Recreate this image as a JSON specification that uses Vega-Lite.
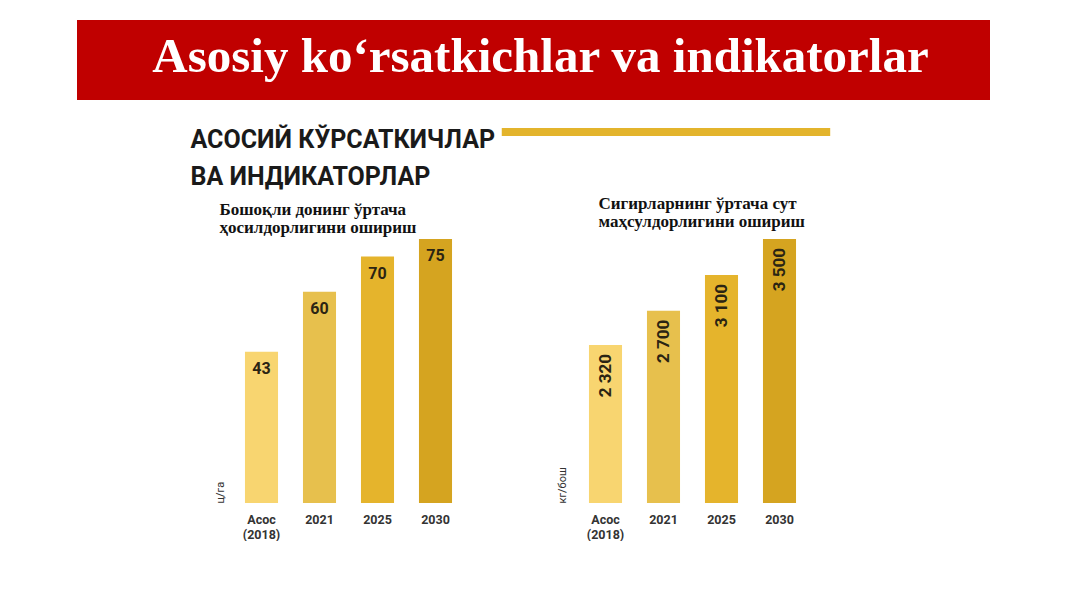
{
  "$schema": "https://vega.github.io/schema/vega-lite/v6.json",
  "background": "white",
  "padding": {"left": 77, "top": 20, "right": 77, "bottom": 0},
  "config": {"view": {"stroke": null}, "font": "Liberation Sans"},
  "center": true,
  "spacing": 0,
  "vconcat": [
    {
      "width": 913,
      "height": 80,
      "view": {"fill": "#c00000", "stroke": null},
      "data": {"values": [{"t": "Asosiy ko‘rsatkichlar va indikatorlar"}]},
      "mark": {"type": "text", "font": "Liberation Serif", "fontWeight": "bold", "fontSize": 49, "color": "#ffffff", "baseline": "alphabetic", "align": "center", "dx": 7},
      "encoding": {
        "text": {"field": "t"},
        "x": {"datum": 0.5, "scale": {"domain": [0, 1]}, "axis": null},
        "y": {"datum": 0.35, "scale": {"domain": [0, 1]}, "axis": null}
      }
    },
    {
      "width": 690,
      "height": 95,
      "data": {"values": [{"t": "АСОСИЙ КЎРСАТКИЧЛАР\nВА ИНДИКАТОРЛАР"}]},
      "layer": [
        {
          "mark": {"type": "rule", "color": "#e3b42c", "strokeWidth": 8},
          "encoding": {
            "x": {"datum": 0.454, "type": "quantitative", "scale": {"domain": [0, 1]}, "axis": null},
            "x2": {"datum": 0.93},
            "y": {"datum": 0.663, "type": "quantitative", "scale": {"domain": [0, 1]}, "axis": null}
          }
        },
        {
          "mark": {"type": "text", "font": "Roboto", "fontWeight": "bold", "fontSize": 25, "color": "#1a1a1a", "baseline": "alphabetic", "align": "left", "lineBreak": "\n", "lineHeight": 37, "dx": 2},
          "encoding": {
            "text": {"field": "t"},
            "x": {"datum": 0, "type": "quantitative"},
            "y": {"datum": 0.495, "type": "quantitative"}
          }
        }
      ]
    },
    {
      "spacing": 92,
      "hconcat": [
        {
          "width": 232,
          "height": 264,
          "title": {"text": ["Бошоқли донинг ўртача", "ҳосилдорлигини ошириш"], "anchor": "start", "frame": "group", "dx": -13, "font": "Liberation Serif", "fontSize": 17, "fontWeight": "bold", "lineHeight": 18, "offset": 2, "color": "#111111"},
          "data": {"values": [
            {"yil": "Асос (2018)", "qiymat": 43, "matn": "43"},
            {"yil": "2021", "qiymat": 60, "matn": "60"},
            {"yil": "2025", "qiymat": 70, "matn": "70"},
            {"yil": "2030", "qiymat": 75, "matn": "75"}
          ]},
          "encoding": {
            "x": {"field": "yil", "type": "nominal", "sort": null, "scale": {"paddingInner": 0.43, "paddingOuter": 0.215},
              "axis": {"title": null, "labelAngle": 0, "ticks": false, "domain": false, "labelExpr": "split(datum.value, ' ')", "labelFont": "Roboto", "labelFontWeight": "bold", "labelFontSize": 12.5, "labelColor": "#333333", "labelPadding": 10, "labelLineHeight": 15}},
            "y": {"field": "qiymat", "type": "quantitative", "scale": {"domain": [0, 75]},
              "axis": {"title": "ц/га", "labels": false, "ticks": false, "domain": false, "grid": false, "titlePadding": 7, "titleAnchor": "start", "titleFont": "Roboto", "titleFontSize": 11, "titleFontWeight": "normal", "titleColor": "#333333"}}
          },
          "layer": [
            {"mark": {"type": "bar"}, "encoding": {"color": {"field": "yil", "type": "nominal", "sort": null, "scale": {"domain": ["Асос (2018)", "2021", "2025", "2030"], "range": ["#f8d570", "#e7c04d", "#e5b42c", "#d5a420"]}, "legend": null}}},
            {"mark": {"type": "text", "baseline": "top", "dy": 9, "font": "Roboto", "fontWeight": "bold", "fontSize": 16, "color": "#2b2413"}, "encoding": {"text": {"field": "matn"}}}
          ]
        },
        {
          "width": 258,
          "height": 264,
          "title": {"text": ["Сигирларнинг ўртача сут", "маҳсулдорлигини ошириш"], "anchor": "start", "frame": "group", "dx": 22, "font": "Liberation Serif", "fontSize": 17, "fontWeight": "bold", "lineHeight": 18, "offset": 8, "color": "#111111"},
          "data": {"values": [
            {"yil": "Асос (2018)", "qiymat": 2320, "matn": "2 320"},
            {"yil": "2021", "qiymat": 2700, "matn": "2 700"},
            {"yil": "2025", "qiymat": 3100, "matn": "3 100"},
            {"yil": "2030", "qiymat": 3500, "matn": "3 500"}
          ]},
          "encoding": {
            "x": {"field": "yil", "type": "nominal", "sort": null, "scale": {"paddingInner": 0.43, "paddingOuter": 0.215, "range": [0, 232]},
              "axis": {"title": null, "labelAngle": 0, "ticks": false, "domain": false, "labelExpr": "split(datum.value, ' ')", "labelFont": "Roboto", "labelFontWeight": "bold", "labelFontSize": 12.5, "labelColor": "#333333", "labelPadding": 10, "labelLineHeight": 15}},
            "y": {"field": "qiymat", "type": "quantitative", "scale": {"domain": [560, 3500], "zero": false, "clamp": true},
              "axis": {"title": "кг/бош", "labels": false, "ticks": false, "domain": false, "grid": false, "titlePadding": 9, "titleAnchor": "start", "titleFont": "Roboto", "titleFontSize": 11, "titleFontWeight": "normal", "titleColor": "#333333"}}
          },
          "layer": [
            {"mark": {"type": "bar"}, "encoding": {"color": {"field": "yil", "type": "nominal", "sort": null, "scale": {"domain": ["Асос (2018)", "2021", "2025", "2030"], "range": ["#f8d570", "#e7c04d", "#e5b42c", "#d5a420"]}, "legend": null}}},
            {"mark": {"type": "text", "angle": 270, "align": "right", "baseline": "middle", "dx": -9, "font": "Roboto", "fontWeight": "bold", "fontSize": 17, "color": "#2b2413"}, "encoding": {"text": {"field": "matn"}}}
          ]
        }
      ]
    }
  ]
}
